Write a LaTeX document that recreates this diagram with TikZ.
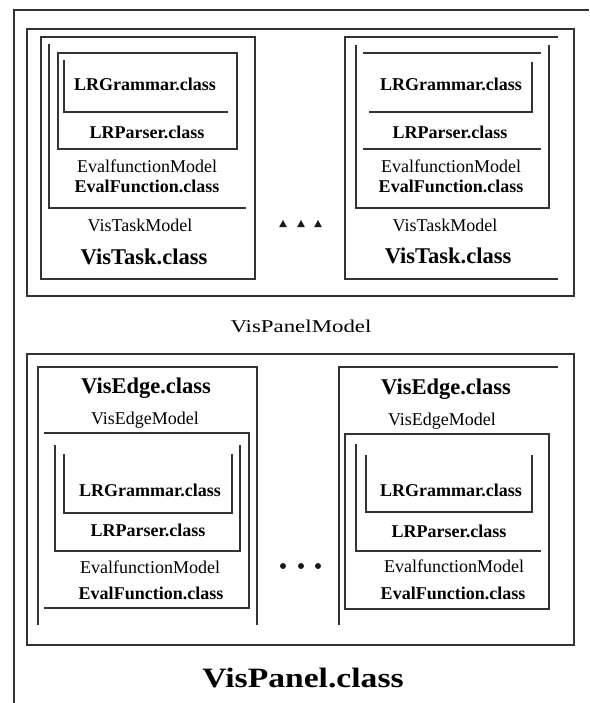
\documentclass[tikz,border=0pt]{standalone}
\usepackage{fontspec}
\setmainfont{Liberation Serif}
\begin{document}
\begin{tikzpicture}[x=1pt,y=-1pt,
  frame/.style={line width=1.3pt, draw=black!80},
  txt/.style={anchor=base, inner sep=0pt, font=\fontsize{18}{20}\selectfont},
  txtb/.style={anchor=base, inner sep=0pt, font=\fontsize{18}{20}\selectfont\bfseries},
  title/.style={anchor=base, inner sep=0pt, font=\fontsize{22.5}{25}\selectfont\bfseries},
  dot/.style={fill=black!90}]
\useasboundingbox (0,0) rectangle (589,703);

% outer frame (left and top edges)
\draw[frame] (14,703) -- (14,10) -- (589,10);

% ===== VisPanelModel =====
\draw[frame] (27,29) rectangle (574,296);

% left VisTask
\draw[frame] (41,37) rectangle (255,279);
\draw[frame] (49,44) -- (49,208) -- (246,208);
\draw[frame] (58,53) rectangle (237,149);
\draw[frame] (64,60) -- (64,112) -- (228,112);
\node[txtb]  (gl1) at (145,91)  {LRGrammar.class};
\node[txtb]  (pl1) at (147,139) {LRParser.class};
\node[txt]   (eml1) at (147,173) {EvalfunctionModel};
\node[txtb]  (efl1) at (147,193) {EvalFunction.class};
\node[txt]   (tml) at (140,232) {VisTaskModel};
\node[title] (tcl) at (144,264) {VisTask.class};

% right VisTask
\draw[frame] (558,37) -- (345,37) -- (345,279) -- (558,279);
\draw[frame] (356,45) -- (356,208) -- (549,208) -- (549,45);
\draw[frame] (363,53) -- (541,53);
\draw[frame] (363,149) -- (541,149);
\draw[frame] (532,62) -- (532,112) -- (369,112);
\node[txtb]  (gr1) at (451,91)  {LRGrammar.class};
\node[txtb]  (pr1) at (450,139) {LRParser.class};
\node[txt]   (emr1) at (451,173) {EvalfunctionModel};
\node[txtb]  (efr1) at (451,193) {EvalFunction.class};
\node[txt]   (tmr) at (445,231) {VisTaskModel};
\node[title] (tcr) at (448,263) {VisTask.class};

% ellipsis between the tasks
\foreach \x in {283,301,318}
  \fill[dot] (\x-3.8,227) -- (\x+3.8,227) -- (\x,220) -- cycle;

\node[anchor=base, inner sep=0pt] (pm) at (301,332)
  {\scalebox{1.27}[1]{\fontsize{18}{20}\selectfont VisPanelModel}};

% ===== VisPanel =====
\draw[frame] (27,354) rectangle (574,645);

% left VisEdge
\draw[frame] (38,625) -- (38,367) -- (257,367) -- (257,625);
\draw[frame] (44,433) -- (249,433) -- (249,608) -- (44,608);
\draw[frame] (55,445) -- (55,551) -- (240,551) -- (240,445);
\draw[frame] (64,454) -- (64,513) -- (232,513) -- (232,454);
\node[title] (ecl) at (146,393) {VisEdge.class};
\node[txt]   (eml) at (145,424) {VisEdgeModel};
\node[txtb]  (gl2) at (150,496) {LRGrammar.class};
\node[txtb]  (pl2) at (148,536) {LRParser.class};
\node[txt]   (eml2) at (150,573) {EvalfunctionModel};
\node[txtb]  (efl2) at (151,599) {EvalFunction.class};

% right VisEdge
\draw[frame] (339,625) -- (339,367) -- (558,367);
\draw[frame] (345,434) rectangle (549,609);
\draw[frame] (356,444) -- (356,551) -- (541,551);
\draw[frame] (366,455) -- (366,512) -- (532,512) -- (532,455);
\node[title] (ecr) at (446,394) {VisEdge.class};
\node[txt]   (emr) at (442,425) {VisEdgeModel};
\node[txtb]  (gr2) at (451,496) {LRGrammar.class};
\node[txtb]  (pr2) at (449,537) {LRParser.class};
\node[txt]   (emr2) at (454,572) {EvalfunctionModel};
\node[txtb]  (efr2) at (453,599) {EvalFunction.class};

% ellipsis between the edges
\foreach \x in {283,301,318}
  \fill[dot] (\x,566) circle (3);

\node[anchor=base, inner sep=0pt] (pc) at (303,687)
  {\scalebox{1.2}[1]{\fontsize{28}{30}\selectfont\bfseries VisPanel.class}};
\end{tikzpicture}
\end{document}
